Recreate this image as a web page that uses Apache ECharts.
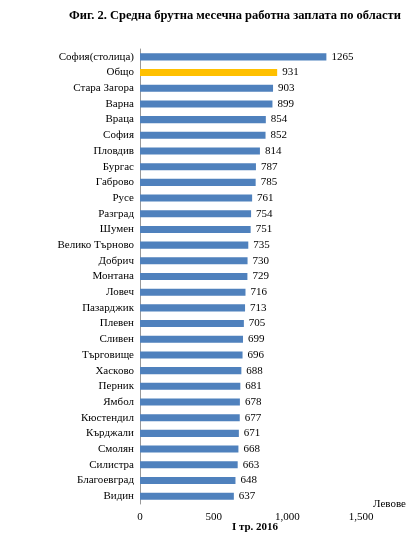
<!DOCTYPE html><html><head><meta charset="utf-8"><script src="https://cdn.jsdelivr.net/npm/echarts@6/dist/echarts.min.js"></script></head><body style="margin:0;background:#fff"><div id="c" style="width:420px;height:550px"></div><script>
const categories=["София(столица)","Общо","Стара Загора","Варна","Враца","София","Пловдив","Бургас","Габрово","Русе","Разград","Шумен","Велико Търново","Добрич","Монтана","Ловеч","Пазарджик","Плевен","Сливен","Търговище","Хасково","Перник","Ямбол","Кюстендил","Кърджали","Смолян","Силистра","Благоевград","Видин"];
const values=[1265,931,903,899,854,852,814,787,785,761,754,751,735,730,729,716,713,705,699,696,688,681,678,677,671,668,663,648,637];
const highlight="Общо";
const F='"Liberation Serif", "Times New Roman", serif';
const ch=echarts.init(document.getElementById('c'));
ch.setOption({animation:false,
title:[{text:'Фиг. 2. Средна брутна месечна работна заплата по области',left:230,textAlign:'center',top:4,textStyle:{fontFamily:F,fontWeight:'bold',fontSize:12.5,color:'#000'}},
{text:'I тр. 2016',left:250,textAlign:'center',top:517,textStyle:{fontFamily:F,fontWeight:'bold',fontSize:11,color:'#000'}},
{text:'Левове',left:368,top:494,textStyle:{fontFamily:F,fontWeight:'normal',fontSize:11,color:'#000'}}],
grid:{left:140,right:59,top:49,bottom:46},
xAxis:{type:'value',min:0,max:1500,interval:500,splitLine:{show:false},axisLine:{show:false},axisTick:{show:false},axisLabel:{fontFamily:F,fontSize:11,color:'#000',margin:8}},
yAxis:{type:'category',inverse:true,data:categories,axisTick:{show:false},axisLine:{lineStyle:{color:'#999'}},axisLabel:{fontFamily:F,fontSize:11,color:'#000',margin:6}},
series:[{type:'bar',barWidth:'45%',data:values.map((v,i)=>({value:v,itemStyle:{color:categories[i]===highlight?'#FFC000':'#4F81BD'}})),label:{show:true,position:'right',distance:5,fontFamily:F,fontSize:11,color:'#000'}}]});
</script></body></html>
